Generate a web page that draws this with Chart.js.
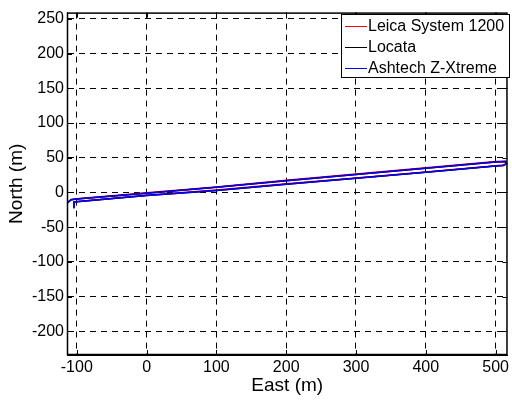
<!DOCTYPE html>
<html>
<head>
<meta charset="utf-8">
<script src="https://cdn.jsdelivr.net/npm/chart.js@4/dist/chart.umd.min.js"></script>
<style>
  html, body { margin: 0; padding: 0; background: #fff; }
  #wrap { width: 512px; height: 403px; }
</style>
</head>
<body>
<div id="wrap"><canvas id="trackChart"></canvas></div>
<script>
// trajectory (east / north in metres)
const leicaEast  = [-104, -104, -100, 0, 100, 200, 300, 400, 500, 511, 516, 514, 500, 400, 300, 200, 100, 0, -100, -108, -113];
const leicaNorth = [-22, -13.5, -13, -4, 3.5, 12.5, 21, 29.5, 38.5, 39.5, 42, 45, 44.5, 35.5, 26.5, 17.5, 8, -0.5, -9, -10, -14];
const locataEast  = [-104, -104, -100, 0, 100, 200, 300, 400, 500, 511, 516, 514, 500, 400, 300, 200, 100, 0, -100, -108, -113];
const locataNorth = [-22, -14, -13.5, -4.5, 3, 12, 20.5, 29, 38, 39, 41.5, 44.5, 44, 35, 26, 17, 7.5, -1, -9.5, -10.5, -14.5];
const ashtechEast  = [-104, -104, -100, 0, 100, 200, 300, 400, 500, 511, 516, 514, 500, 400, 300, 200, 100, 0, -100, -108, -113];
const ashtechNorth = [-23, -14, -13.5, -4.5, 3, 12, 20.5, 29, 38, 39, 41.5, 44.5, 44, 35, 26, 17, 7.5, -1, -9.5, -10.5, -14.5];

const seriesLabels = ['Leica System 1200', 'Locata', 'Ashtech Z-Xtreme'];
const seriesColors = ['#ff0000', '#000000', '#0000ff'];

const fontFamily = '"Liberation Sans", Arial, sans-serif';

function toPoints(xs, ys) {
    return xs.map((x, i) => ({ x: x, y: ys[i] }));
}

// box, inward ticks and legend drawn like the matlab figure
const boxPlugin = {
    id: 'boxPlugin',
    afterDraw(chart) {
        const { ctx, chartArea: a, scales } = chart;
        ctx.save();
        ctx.strokeStyle = '#000';
        ctx.lineWidth = 1;
        ctx.setLineDash([]);
        ctx.beginPath();
        scales.x.ticks.forEach(t => {
            const px = Math.round(scales.x.getPixelForValue(t.value)) + 0.5;
            ctx.moveTo(px, a.bottom); ctx.lineTo(px, a.bottom - 5);
            ctx.moveTo(px, a.top); ctx.lineTo(px, a.top + 5);
        });
        scales.y.ticks.forEach(t => {
            const py = Math.round(scales.y.getPixelForValue(t.value)) + 0.5;
            ctx.moveTo(a.left, py); ctx.lineTo(a.left + 5, py);
            ctx.moveTo(a.right, py); ctx.lineTo(a.right - 5, py);
        });
        ctx.stroke();
        ctx.lineWidth = 1.5;
        ctx.strokeRect(a.left + 0.5, a.top + 0.5, a.right - a.left - 1, a.bottom - a.top - 1);

        // legend
        const lx = 341, ly = 14, lw = 168, lh = 63;
        ctx.lineWidth = 1;
        ctx.fillStyle = '#fff';
        ctx.fillRect(lx, ly, lw, lh);
        ctx.strokeRect(lx + 0.5, ly + 0.5, lw, lh);
        ctx.font = '16px ' + fontFamily;
        ctx.textBaseline = 'middle';
        seriesLabels.forEach((lab, i) => {
            const y = ly + 11.5 + i * 21;
            ctx.strokeStyle = seriesColors[i];
            ctx.beginPath();
            ctx.moveTo(lx + 4, Math.round(y) + 0.5);
            ctx.lineTo(lx + 26, Math.round(y) + 0.5);
            ctx.stroke();
            ctx.fillStyle = '#000';
            ctx.fillText(lab, lx + 27, y + 1);
        });
        ctx.restore();
    }
};

document.addEventListener('DOMContentLoaded', function () {
    const ctx = document.getElementById('trackChart').getContext('2d');
    const eastSets = [leicaEast, locataEast, ashtechEast];
    const northSets = [leicaNorth, locataNorth, ashtechNorth];

    new Chart(ctx, {
        type: 'scatter',
        data: {
            datasets: seriesLabels.map((lab, i) => ({
                label: lab,
                data: toPoints(eastSets[i], northSets[i]),
                showLine: true,
                borderColor: seriesColors[i],
                borderWidth: 1.5,
                pointRadius: 0,
                fill: false,
                tension: 0,
                order: seriesLabels.length - i   // ashtech drawn on top
            }))
        },
        options: {
            responsive: true,
            maintainAspectRatio: false,
            animation: false,
            layout: { padding: { top: 7, right: 2, left: 0, bottom: 3 } },
            plugins: {
                legend: { display: false },
                tooltip: { enabled: false }
            },
            scales: {
                x: {
                    type: 'linear',
                    min: -114,
                    max: 517,
                    afterFit: function (scale) { scale.height = 45; },
                    grid: { color: '#000', drawTicks: false, lineWidth: 1 },
                    border: { display: true, color: '#000', dash: [6, 5] },
                    ticks: {
                        stepSize: 100,
                        includeBounds: false,
                        padding: 3,
                        color: '#000',
                        maxRotation: 0,
                        font: { family: fontFamily, size: 16 }
                    },
                    title: {
                        display: true,
                        text: 'East (m)',
                        color: '#000',
                        padding: { top: 0, bottom: 3 },
                        font: { family: fontFamily, size: 19 }
                    }
                },
                y: {
                    type: 'linear',
                    min: -234,
                    max: 259,
                    afterFit: function (scale) { scale.width = 67; },
                    grid: { color: '#000', drawTicks: false, lineWidth: 1 },
                    border: { display: true, color: '#000', dash: [6, 5] },
                    ticks: {
                        stepSize: 50,
                        includeBounds: false,
                        padding: 3,
                        color: '#000',
                        font: { family: fontFamily, size: 16 }
                    },
                    title: {
                        display: true,
                        text: 'North (m)',
                        color: '#000',
                        padding: { top: 5, bottom: 0 },
                        font: { family: fontFamily, size: 19 }
                    }
                }
            }
        },
        plugins: [boxPlugin]
    });
});
</script>
</body>
</html>
